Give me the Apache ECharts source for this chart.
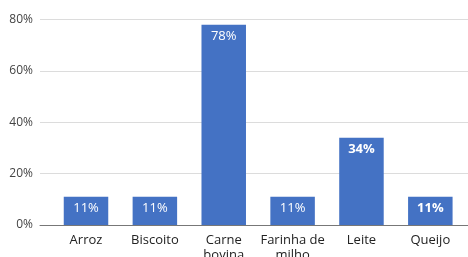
<!DOCTYPE html>
<html>
<head>
<meta charset="utf-8">
<script src="https://cdn.jsdelivr.net/npm/echarts@6/dist/echarts.min.js"></script>
<style>
html,body{margin:0;padding:0;background:#fff;}
#c{width:468px;height:257px;}
</style>
</head>
<body>
<div id="c"></div>
<script>
const categories = ["Arroz", "Biscoito", "Carne\nbovina", "Farinha de\nmilho", "Leite", "Queijo"];
const values = [11, 11, 78, 11, 34, 11];
const boldLabels = [false, false, false, false, true, true];
const yTicks = [0, 20, 40, 60, 80];

const chart = echarts.init(document.getElementById('c'), null, {renderer: 'canvas'});
const FONT = "'Open Sans', 'Noto Sans', sans-serif";

chart.setOption({
  animation: false,
  backgroundColor: '#fff',
  grid: {left: 40, right: 0, top: 19.5, bottom: 32, containLabel: false, outerBoundsMode: 'none'},
  xAxis: {
    type: 'value',
    min: -0.668,
    max: 5.547,
    splitLine: {show: false},
    axisTick: {show: false},
    axisLine: {show: true, lineStyle: {color: '#777', width: 1}},
    axisLabel: {
      customValues: categories.map((c, i) => i),
      formatter: v => categories[Math.round(v)],
      color: '#222',
      fontSize: 13,
      fontFamily: FONT,
      margin: 8,
      lineHeight: 15,
      hideOverlap: false
    }
  },
  yAxis: {
    type: 'value',
    min: yTicks[0],
    max: yTicks[yTicks.length - 1],
    interval: 20,
    axisLine: {show: false},
    axisTick: {show: false},
    splitLine: {lineStyle: {color: '#dcdcdc', width: 1}},
    axisLabel: {
      formatter: '{value}%',
      color: '#444',
      fontSize: 12,
      fontFamily: FONT,
      margin: 7
    }
  },
  series: [{
    type: 'bar',
    barWidth: 44.5,
    itemStyle: {color: '#4472C4'},
    data: categories.map((c, i) => ({
      value: [i, values[i]],
      label: {fontWeight: boldLabels[i] ? 'bold' : 'normal'}
    })),
    label: {
      show: true,
      position: 'insideTop',
      distance: 5,
      color: '#fff',
      fontSize: 13,
      fontFamily: FONT,
      formatter: p => p.value[1] + '%'
    }
  }]
});
</script>
</body>
</html>
